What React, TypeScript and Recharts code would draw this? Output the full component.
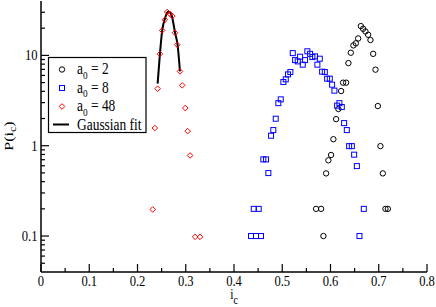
import { ComposedChart, Scatter, Line, XAxis, YAxis } from "recharts";

// a0 = 2 (black circles): [i_c, P(i_c)]
const a0_2: [number, number][] = [
  [0.5701, 0.2], [0.5805, 0.2], [0.5853, 0.1], [0.5909, 0.494], [0.5956, 0.689],
  [0.6012, 0.79], [0.606, 1.18], [0.6116, 1.97], [0.6164, 2.55], [0.622, 4.03],
  [0.6261, 4.99], [0.6324, 4.99], [0.6371, 8.22], [0.6421, 10.7], [0.6475, 12.9],
  [0.6525, 13.6], [0.6573, 15.4], [0.6629, 21.1], [0.6676, 19.7], [0.6724, 18.4],
  [0.678, 16.9], [0.6828, 14.8], [0.6884, 10.4], [0.6932, 6.95], [0.6981, 2.75],
  [0.7035, 0.99], [0.7085, 0.494], [0.7139, 0.2], [0.7189, 0.2],
];

// a0 = 8 (blue squares)
const a0_8: [number, number][] = [
  [0.4353, 0.1], [0.4409, 0.2], [0.4456, 0.1], [0.4512, 0.2], [0.456, 0.1],
  [0.4608, 0.706], [0.4664, 0.706], [0.4712, 0.498], [0.4768, 1.29], [0.4815, 1.49],
  [0.4865, 1.99], [0.4919, 2.96], [0.4969, 3.26], [0.5023, 5.07], [0.5073, 5.43],
  [0.512, 6.16], [0.5168, 6.54], [0.5218, 10.6], [0.5266, 8.87], [0.5321, 8.58],
  [0.537, 9.67], [0.5425, 7.89], [0.5473, 8.87], [0.552, 11.1], [0.5577, 10.4],
  [0.5624, 9.58], [0.568, 9.75], [0.5728, 7.89], [0.5778, 9.19], [0.5826, 6.6],
  [0.5882, 6.54], [0.593, 5.52], [0.5985, 5.52], [0.6033, 4.74], [0.6081, 4.07],
  [0.6137, 2.78], [0.6185, 2.96], [0.6234, 2.68], [0.6282, 1.78], [0.6338, 1.49],
  [0.6386, 0.99], [0.6442, 0.99], [0.649, 0.796], [0.6546, 0.595], [0.66, 0.1],
  [0.669, 0.2],
];

// a0 = 48 (red diamonds)
const a0_48: [number, number][] = [
  [0.2316, 0.197], [0.236, 1.57], [0.2417, 4.28], [0.2465, 10.4], [0.2512, 18.9],
  [0.2568, 24.8], [0.2616, 30.2], [0.2672, 28.8], [0.272, 27.2], [0.2776, 17.8],
  [0.2824, 13.1], [0.288, 6.65], [0.2927, 4.66], [0.299, 2.61], [0.304, 1.45],
  [0.309, 0.78], [0.3195, 0.098], [0.3296, 0.098],
];

// Gaussian fit
const gaussFit: [number, number][] = [
  [0.2417, 4.86], [0.2465, 10.4], [0.2512, 18.9], [0.2568, 25.5], [0.2637, 30.7],
  [0.2707, 27.7], [0.2776, 18.1], [0.2832, 12.9], [0.288, 6.65],
];

const xMajorTicks = [0, 0.1, 0.2, 0.3, 0.4, 0.5, 0.6, 0.7, 0.8];
const xTickLabels = ["0", "0.1", "0.2", "0.3", "0.4", "0.5", "0.6", "0.7", "0.8"];
const xMinorTicks = [0.05, 0.15, 0.25, 0.35, 0.45, 0.55, 0.65, 0.75];
const yMajorTicks = [0.1, 1, 10];
const yTickLabels = ["0.1", "1", "10"];
const yMinorTicks = [
  0.05, 0.06, 0.07, 0.08, 0.09, 0.2, 0.3, 0.4, 0.5, 0.6, 0.7, 0.8, 0.9,
  2, 3, 4, 5, 6, 7, 8, 9, 20, 30,
];

const toPts = (arr: [number, number][]) => arr.map(([x, y]) => ({ x, y }));

const FONT = "'Liberation Serif', 'Times New Roman', serif";
const SQ = 0.84; // glyphs in the source are a bit narrow
const near = (a: number, b: number) => Math.abs(a - b) < 1e-9;
const xTicks = [...xMajorTicks, ...xMinorTicks].sort((a, b) => a - b);
const yTicks = [...yMajorTicks, ...yMinorTicks].sort((a, b) => a - b);

function XTick(props: any) {
  const { x, y, payload, top } = props;
  const i = xMajorTicks.findIndex((m) => near(m, payload.value));
  const len = i >= 0 ? 8 : 4;
  const dir = top ? 1 : -1;
  return (
    <g>
      <line x1={x} x2={x} y1={y} y2={y + dir * len} stroke="#000" strokeWidth={1.2} />
      {!top && i >= 0 && (
        <text
          transform={`translate(${x},${y + 13.5}) scale(${SQ},1)`}
          textAnchor="middle"
          fontFamily={FONT}
          fontSize={15}
          fill="#000"
        >
          {xTickLabels[i]}
        </text>
      )}
    </g>
  );
}

function YTick(props: any) {
  const { x, y, payload, right } = props;
  const i = yMajorTicks.findIndex((m) => near(m, payload.value));
  const len = i >= 0 ? 8 : 4;
  const dir = right ? -1 : 1;
  return (
    <g>
      <line x1={x} x2={x + dir * len} y1={y} y2={y} stroke="#000" strokeWidth={1.2} />
      {!right && i >= 0 && (
        <text
          transform={`translate(${x - 3.5},${y + 5}) scale(${SQ},1)`}
          textAnchor="end"
          fontFamily={FONT}
          fontSize={15}
          fill="#000"
        >
          {yTickLabels[i]}
        </text>
      )}
    </g>
  );
}

const CircleDot = (p: any) => (
  <circle cx={p.cx} cy={p.cy} r={2.7} fill="none" stroke="#000" strokeWidth={1} />
);
const SquareDot = (p: any) => (
  <rect x={p.cx - 2.5} y={p.cy - 2.5} width={5} height={5} fill="none" stroke="#0000ff" strokeWidth={1} />
);
const DiamondDot = (p: any) => (
  <path
    d={`M${p.cx},${p.cy - 2.8}L${p.cx + 2.8},${p.cy}L${p.cx},${p.cy + 2.8}L${p.cx - 2.8},${p.cy}Z`}
    fill="none"
    stroke="#ff0000"
    strokeWidth={1}
  />
);

function LegendBox() {
  const rows = [
    { label: "2", y: 69.5 },
    { label: "8", y: 88 },
    { label: "48", y: 106.5 },
  ];
  return (
    <svg width={436} height={307} style={{ position: "absolute", left: 0, top: 0, pointerEvents: "none" }}>
      <rect x={48.5} y={57.5} width={97.5} height={75} fill="#fff" stroke="#000" strokeWidth={1.2} />
      {rows.map((r, k) => (
        <g key={k}>
          {k === 0 && <CircleDot cx={62} cy={r.y} />}
          {k === 1 && <SquareDot cx={62} cy={r.y} />}
          {k === 2 && <DiamondDot cx={62} cy={r.y} />}
          <text transform={`translate(77,${r.y + 4.5}) scale(${SQ},1)`} fontFamily={FONT} fontSize={16} fill="#000">
            a
            <tspan dy={4.5} fontSize={11}>0</tspan>
            <tspan dy={-4.5}>{` = ${r.label}`}</tspan>
          </text>
        </g>
      ))}
      <line x1={53} x2={69} y1={124.5} y2={124.5} stroke="#000" strokeWidth={2} />
      <text transform={`translate(77,129.5) scale(${SQ},1)`} fontFamily={FONT} fontSize={16} fill="#000">
        Gaussian fit
      </text>
      <text transform={`translate(12.5,136) rotate(-90) scale(1,${SQ})`} textAnchor="middle" fontFamily={FONT} fontSize={16} fill="#000">
        P(i
        <tspan dy={4} fontSize={12}>c</tspan>
        <tspan dy={-4}>)</tspan>
      </text>
      <text transform={`translate(234,299) scale(${SQ},1)`} textAnchor="middle" fontFamily={FONT} fontSize={14} fill="#000">
        i
        <tspan dy={5} fontSize={12}>c</tspan>
      </text>
    </svg>
  );
}

export default function App() {
  return (
    <div style={{ position: "absolute", left: 0, top: 0, width: 436, height: 307, background: "#fff" }}>
      <ComposedChart width={436} height={307} margin={{ top: 1, right: 9, bottom: 0, left: 0 }}>
        <XAxis
          dataKey="x"
          type="number"
          domain={[0, 0.8]}
          ticks={xTicks}
          interval={0}
          height={35}
          tickSize={0}
          tickMargin={0}
          tickLine={false}
          axisLine={{ stroke: "#000", strokeWidth: 1.5 }}
          tick={<XTick />}
          allowDataOverflow
        />
        <XAxis
          xAxisId="top"
          orientation="top"
          dataKey="x"
          type="number"
          domain={[0, 0.8]}
          ticks={xTicks}
          interval={0}
          height={0}
          tickSize={0}
          tickMargin={0}
          tickLine={false}
          axisLine={{ stroke: "#000", strokeWidth: 1.5 }}
          tick={<XTick top />}
          allowDataOverflow
        />
        <YAxis
          dataKey="y"
          type="number"
          scale="log"
          domain={[0.04, 40]}
          ticks={yTicks}
          interval={0}
          width={41}
          tickSize={0}
          tickMargin={0}
          tickLine={false}
          axisLine={{ stroke: "#000", strokeWidth: 1.5 }}
          tick={<YTick />}
          allowDataOverflow
        />
        <YAxis
          yAxisId="right"
          orientation="right"
          dataKey="y"
          type="number"
          scale="log"
          domain={[0.04, 40]}
          ticks={yTicks}
          interval={0}
          width={0}
          tickSize={0}
          tickMargin={0}
          tickLine={false}
          axisLine={{ stroke: "#000", strokeWidth: 1.5 }}
          tick={<YTick right />}
          allowDataOverflow
        />
        <Scatter data={toPts(a0_2)} shape={CircleDot} isAnimationActive={false} />
        <Scatter data={toPts(a0_8)} shape={SquareDot} isAnimationActive={false} />
        <Scatter data={toPts(a0_48)} shape={DiamondDot} isAnimationActive={false} />
        <Line
          data={toPts(gaussFit)}
          dataKey="y"
          type="monotone"
          stroke="#000"
          strokeWidth={2}
          dot={false}
          isAnimationActive={false}
        />
      </ComposedChart>
      <LegendBox />
    </div>
  );
}
